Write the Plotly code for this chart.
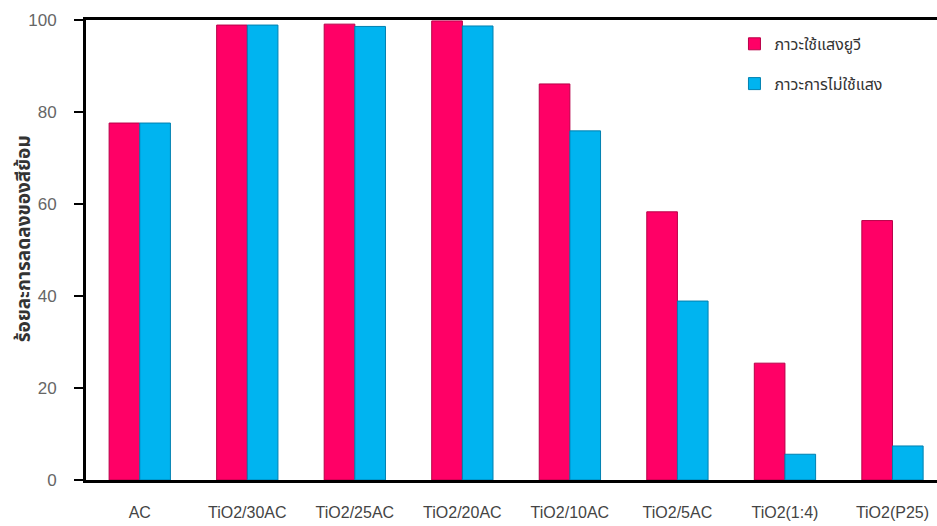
import plotly.graph_objects as go

categories = ["AC", "TiO2/30AC", "TiO2/25AC", "TiO2/20AC", "TiO2/10AC", "TiO2/5AC", "TiO2(1:4)", "TiO2(P25)"]
uv_values = [77.6, 98.9, 99.1, 99.8, 86.1, 58.3, 25.4, 56.4]
dark_values = [77.6, 98.9, 98.6, 98.7, 75.9, 38.9, 5.6, 7.4]
series_names = ["ภาวะใช้แสงยูวี", "ภาวะการไม่ใช้แสง"]
y_ticks = [0, 20, 40, 60, 80, 100]
y_title = "ร้อยละการลดลงของสีย้อม"

thai_font = "Noto Sans Thai, Loma, Garuda, Tahoma, Noto Sans, sans-serif"
narrow_font = "Liberation Sans Narrow, Arial Narrow, Liberation Sans, sans-serif"

fig = go.Figure()
fig.add_trace(go.Bar(
    x=categories, y=uv_values, name=series_names[0], legendgroup="a",
    marker=dict(color="#FF0066", line=dict(color="#B80048", width=1)),
))
fig.add_trace(go.Bar(
    x=categories, y=dark_values, name=series_names[1], legendgroup="b",
    marker=dict(color="#00B4F0", line=dict(color="#0080B0", width=1)),
))

fig.add_annotation(
    text=y_title, textangle=-90,
    xref="paper", yref="paper", x=-0.072, y=0.525,
    xanchor="center", yanchor="middle", showarrow=False,
    font=dict(family=thai_font, size=19, color="#333333", weight="bold"),
)

fig.update_layout(
    width=937, height=526,
    margin=dict(l=86, r=0, t=20, b=46),
    paper_bgcolor="white", plot_bgcolor="white",
    barmode="group", bargap=0.43, bargroupgap=0,
    showlegend=True,
    legend=dict(
        x=0.762, y=0.985, xanchor="left", yanchor="top",
        bgcolor="rgba(255,255,255,0)",
        font=dict(family=thai_font, size=16, color="#333333"),
        tracegroupgap=16, itemwidth=30,
    ),
    xaxis=dict(
        range=[-0.5, 7.414],
        showline=True, linecolor="black", linewidth=3, mirror=True,
        ticks="", showgrid=False,
        tickfont=dict(family=narrow_font, size=16, color="#444444"),
        ticklabelstandoff=16,
    ),
    yaxis=dict(
        range=[0, 100], tickvals=y_ticks,
        showline=True, linecolor="black", linewidth=3,
        ticks="outside", ticklen=9, tickwidth=2, tickcolor="black",
        showgrid=False, zeroline=False,
        tickfont=dict(family=narrow_font, size=17, color="#666666"),
        ticklabelstandoff=14,
    ),
)

fig.write_html("out.html")
